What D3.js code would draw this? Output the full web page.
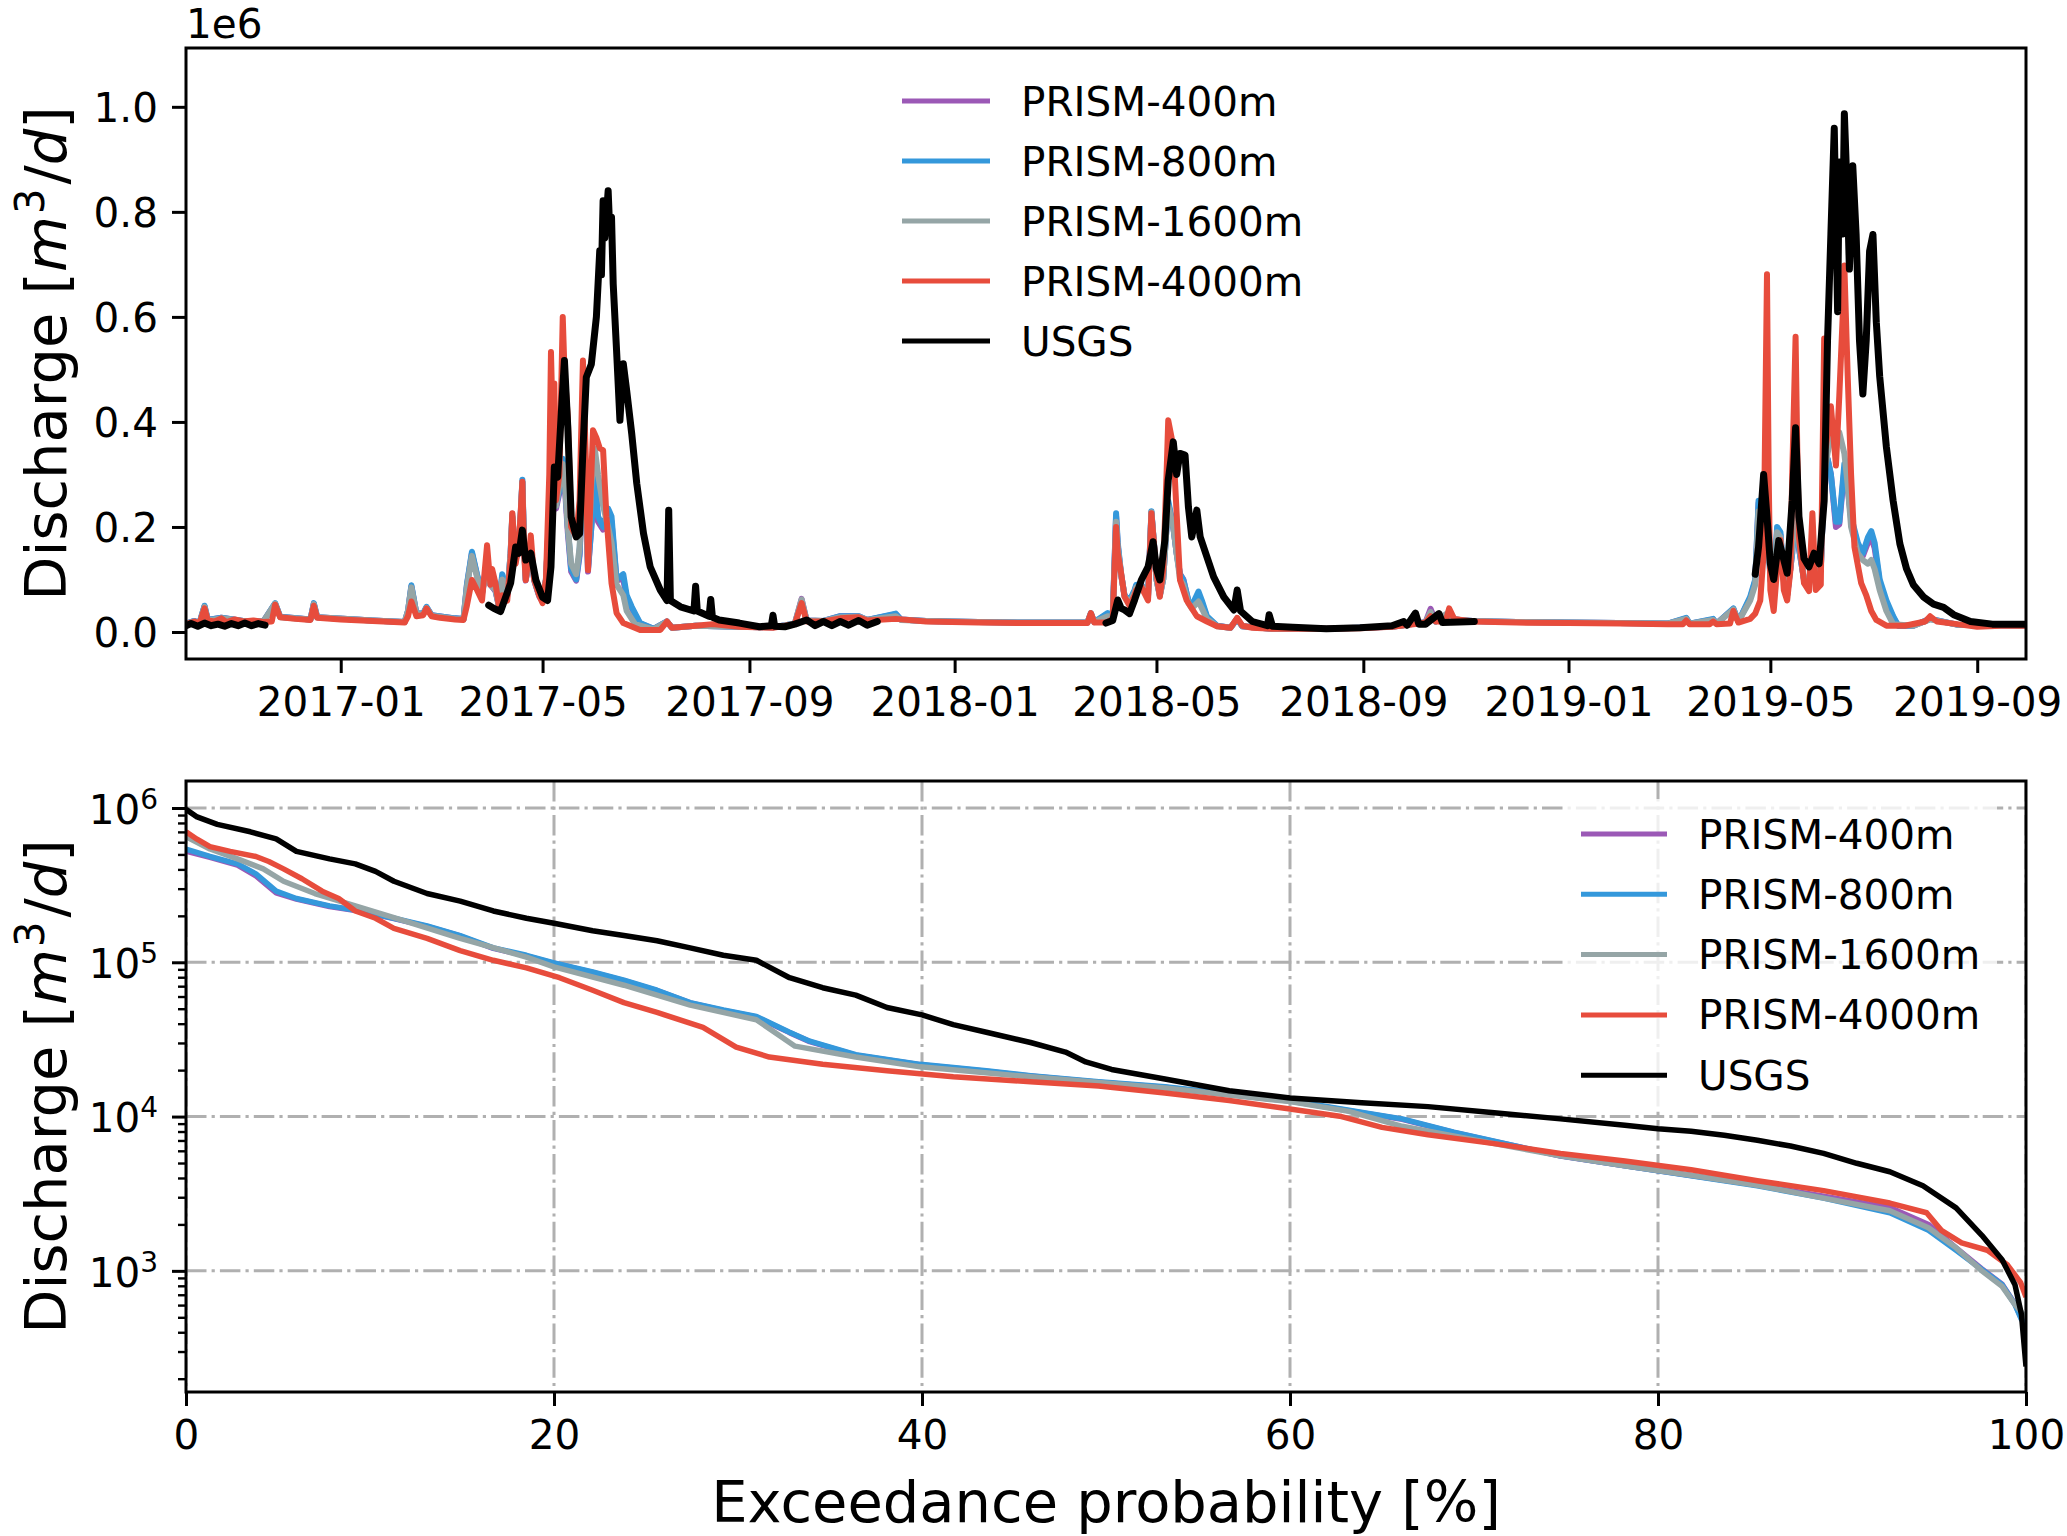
<!DOCTYPE html>
<html><head><meta charset="utf-8">
<script src="https://cdn.jsdelivr.net/npm/d3@7"></script>
<style>body{margin:0;background:#fff}svg{display:block}text{font-family:"DejaVu Sans",sans-serif;fill:#000}</style>
</head><body><svg id="chart" width="2067" height="1536"></svg>
<script>
// ---------------- DATA ----------------
const seriesNames = ["PRISM-400m","PRISM-800m","PRISM-1600m","PRISM-4000m","USGS"];
const seriesColors = ["#9b59b6","#3498db","#95a5a6","#e74c3c","#000000"];
const timeDomain = ["2016-10-01","2019-09-30"];
const timeTicks = ["2017-01-01","2017-05-01","2017-09-01","2018-01-01","2018-05-01","2018-09-01","2019-01-01","2019-05-01","2019-09-01"];
const flowTicks = [0,0.2,0.4,0.6,0.8,1.0];          // in units of 1e6 m3/d
const probTicks = [0,20,40,60,80,100];
const logMajorTicks = [1e3,1e4,1e5,1e6];

// daily discharge (1e6 m3/d), [date, value]; null = gap
const prism4000 = [["2016-10-01",0.015],["2016-10-06",0.02],["2016-10-09",0.016],["2016-10-12",0.045],["2016-10-14",0.022],["2016-10-18",0.02],["2016-10-22",0.026],["2016-10-25",0.019],["2016-10-30",0.024],["2016-11-04",0.02],["2016-11-10",0.022],["2016-11-16",0.019],["2016-11-21",0.02],["2016-11-23",0.052],["2016-11-26",0.028],["2016-12-05",0.025],["2016-12-14",0.023],["2016-12-16",0.05],["2016-12-18",0.027],["2017-01-01",0.024],["2017-01-20",0.021],["2017-02-08",0.018],["2017-02-10",0.03],["2017-02-12",0.058],["2017-02-15",0.03],["2017-02-19",0.032],["2017-02-21",0.045],["2017-02-24",0.03],["2017-03-01",0.027],["2017-03-10",0.024],["2017-03-15",0.023],["2017-03-17",0.05],["2017-03-20",0.099],["2017-03-23",0.08],["2017-03-26",0.06],["2017-03-29",0.165],["2017-03-31",0.09],["2017-04-01",0.12],["2017-04-03",0.093],["2017-04-05",0.05],["2017-04-07",0.07],["2017-04-10",0.06],["2017-04-12",0.14],["2017-04-13",0.226],["2017-04-15",0.13],["2017-04-17",0.17],["2017-04-19",0.286],["2017-04-20",0.15],["2017-04-21",0.099],["2017-04-23",0.15],["2017-04-24",0.184],["2017-04-26",0.1],["2017-04-29",0.07],["2017-05-01",0.055],["2017-05-03",0.1],["2017-05-05",0.3],["2017-05-06",0.533],["2017-05-07",0.4],["2017-05-08",0.473],["2017-05-09",0.251],["2017-05-11",0.3],["2017-05-13",0.6],["2017-05-14",0.5],["2017-05-16",0.409],["2017-05-18",0.2],["2017-05-21",0.181],["2017-05-23",0.25],["2017-05-25",0.517],["2017-05-27",0.3],["2017-05-28",0.118],["2017-05-30",0.3],["2017-05-31",0.384],["2017-06-02",0.37],["2017-06-04",0.35],["2017-06-06",0.346],["2017-06-08",0.219],["2017-06-11",0.093],["2017-06-14",0.036],["2017-06-18",0.017],["2017-06-28",0.004],["2017-07-10",0.004],["2017-07-14",0.02],["2017-07-17",0.008],["2017-07-31",0.012],["2017-08-10",0.015],["2017-08-26",0.01],["2017-09-15",0.008],["2017-09-28",0.015],["2017-10-02",0.055],["2017-10-05",0.02],["2017-10-15",0.02],["2017-10-25",0.026],["2017-11-05",0.028],["2017-11-10",0.022],["2017-11-27",0.025],["2017-12-15",0.02],["2018-01-15",0.018],["2018-02-15",0.017],["2018-03-21",0.017],["2018-03-23",0.036],["2018-03-25",0.018],["2018-04-01",0.018],["2018-04-05",0.025],["2018-04-07",0.2],["2018-04-08",0.15],["2018-04-10",0.112],["2018-04-12",0.067],["2018-04-15",0.05],["2018-04-18",0.07],["2018-04-19",0.08],["2018-04-22",0.086],["2018-04-26",0.06],["2018-04-28",0.226],["2018-04-30",0.15],["2018-05-01",0.112],["2018-05-03",0.067],["2018-05-05",0.118],["2018-05-07",0.3],["2018-05-08",0.403],["2018-05-10",0.37],["2018-05-11",0.352],["2018-05-13",0.226],["2018-05-15",0.099],["2018-05-19",0.06],["2018-05-25",0.03],["2018-05-31",0.02],["2018-06-06",0.011],["2018-06-14",0.008],["2018-06-18",0.027],["2018-06-21",0.012],["2018-06-27",0.008],["2018-07-09",0.006],["2018-08-10",0.006],["2018-08-30",0.007],["2018-09-18",0.01],["2018-10-02",0.015],["2018-10-08",0.018],["2018-10-11",0.03],["2018-10-14",0.02],["2018-10-20",0.02],["2018-10-22",0.045],["2018-10-25",0.025],["2018-11-05",0.02],["2018-12-01",0.018],["2019-01-01",0.017],["2019-02-01",0.016],["2019-03-01",0.015],["2019-03-10",0.015],["2019-03-12",0.022],["2019-03-14",0.015],["2019-03-26",0.015],["2019-03-28",0.02],["2019-03-30",0.015],["2019-04-07",0.016],["2019-04-09",0.04],["2019-04-12",0.018],["2019-04-19",0.025],["2019-04-22",0.035],["2019-04-25",0.06],["2019-04-27",0.15],["2019-04-29",0.681],["2019-04-30",0.3],["2019-05-01",0.08],["2019-05-03",0.04],["2019-05-05",0.12],["2019-05-07",0.175],["2019-05-09",0.08],["2019-05-11",0.06],["2019-05-13",0.12],["2019-05-14",0.3],["2019-05-16",0.562],["2019-05-17",0.35],["2019-05-18",0.182],["2019-05-21",0.093],["2019-05-24",0.078],["2019-05-26",0.226],["2019-05-28",0.08],["2019-05-31",0.09],["2019-06-02",0.559],["2019-06-03",0.352],["2019-06-06",0.43],["2019-06-09",0.317],["2019-06-11",0.45],["2019-06-13",0.6],["2019-06-14",0.698],["2019-06-16",0.487],["2019-06-18",0.3],["2019-06-20",0.162],["2019-06-24",0.093],["2019-06-27",0.07],["2019-06-30",0.04],["2019-07-03",0.023],["2019-07-09",0.012],["2019-07-20",0.012],["2019-08-01",0.02],["2019-08-04",0.03],["2019-08-08",0.02],["2019-08-20",0.015],["2019-09-01",0.01],["2019-09-15",0.012],["2019-09-30",0.012]];

const prism800 = [["2016-10-01",0.016],["2016-10-06",0.021],["2016-10-09",0.017],["2016-10-12",0.05],["2016-10-14",0.023],["2016-10-22",0.027],["2016-11-04",0.021],["2016-11-16",0.02],["2016-11-23",0.055],["2016-11-26",0.029],["2016-12-14",0.024],["2016-12-16",0.055],["2016-12-18",0.028],["2017-01-20",0.022],["2017-02-08",0.019],["2017-02-10",0.04],["2017-02-12",0.089],["2017-02-15",0.035],["2017-02-19",0.035],["2017-02-21",0.048],["2017-02-24",0.032],["2017-03-10",0.026],["2017-03-15",0.025],["2017-03-17",0.09],["2017-03-20",0.153],["2017-03-23",0.11],["2017-03-26",0.075],["2017-03-29",0.13],["2017-03-31",0.09],["2017-04-03",0.08],["2017-04-05",0.05],["2017-04-07",0.11],["2017-04-10",0.07],["2017-04-12",0.15],["2017-04-13",0.22],["2017-04-15",0.14],["2017-04-17",0.16],["2017-04-19",0.29],["2017-04-20",0.17],["2017-04-21",0.1],["2017-04-23",0.14],["2017-04-24",0.16],["2017-04-26",0.1],["2017-04-29",0.07],["2017-05-01",0.06],["2017-05-03",0.1],["2017-05-05",0.22],["2017-05-06",0.25],["2017-05-08",0.26],["2017-05-09",0.24],["2017-05-11",0.27],["2017-05-13",0.33],["2017-05-14",0.3],["2017-05-16",0.2],["2017-05-18",0.12],["2017-05-21",0.1],["2017-05-23",0.15],["2017-05-25",0.3],["2017-05-27",0.25],["2017-05-28",0.12],["2017-05-30",0.2],["2017-06-01",0.3],["2017-06-03",0.22],["2017-06-06",0.2],["2017-06-09",0.235],["2017-06-11",0.22],["2017-06-14",0.1],["2017-06-16",0.105],["2017-06-18",0.11],["2017-06-20",0.07],["2017-06-23",0.048],["2017-06-28",0.017],["2017-07-06",0.006],["2017-07-14",0.02],["2017-07-17",0.008],["2017-07-31",0.012],["2017-08-26",0.01],["2017-09-15",0.009],["2017-09-28",0.016],["2017-10-02",0.058],["2017-10-05",0.022],["2017-10-15",0.021],["2017-10-25",0.03],["2017-11-05",0.03],["2017-11-10",0.023],["2017-11-27",0.035],["2017-11-30",0.024],["2017-12-15",0.021],["2018-01-15",0.019],["2018-02-15",0.018],["2018-03-21",0.018],["2018-03-23",0.036],["2018-03-25",0.019],["2018-04-02",0.036],["2018-04-05",0.03],["2018-04-07",0.226],["2018-04-08",0.17],["2018-04-10",0.11],["2018-04-12",0.07],["2018-04-15",0.06],["2018-04-18",0.08],["2018-04-19",0.09],["2018-04-22",0.09],["2018-04-26",0.07],["2018-04-28",0.23],["2018-04-30",0.15],["2018-05-01",0.1],["2018-05-03",0.07],["2018-05-05",0.1],["2018-05-07",0.2],["2018-05-08",0.25],["2018-05-11",0.2],["2018-05-13",0.15],["2018-05-15",0.11],["2018-05-17",0.099],["2018-05-20",0.06],["2018-05-22",0.05],["2018-05-26",0.077],["2018-05-28",0.06],["2018-05-31",0.03],["2018-06-06",0.012],["2018-06-14",0.008],["2018-06-18",0.025],["2018-06-21",0.011],["2018-07-09",0.006],["2018-08-10",0.006],["2018-09-18",0.01],["2018-10-02",0.016],["2018-10-08",0.018],["2018-10-11",0.035],["2018-10-14",0.02],["2018-10-22",0.035],["2018-10-25",0.024],["2018-11-05",0.021],["2018-12-01",0.019],["2019-01-01",0.018],["2019-03-01",0.016],["2019-03-12",0.027],["2019-03-14",0.016],["2019-03-28",0.025],["2019-03-30",0.016],["2019-04-09",0.045],["2019-04-12",0.02],["2019-04-19",0.067],["2019-04-22",0.1],["2019-04-24",0.25],["2019-04-26",0.2],["2019-04-29",0.26],["2019-05-01",0.1],["2019-05-03",0.07],["2019-05-05",0.2],["2019-05-07",0.19],["2019-05-09",0.1],["2019-05-11",0.07],["2019-05-14",0.15],["2019-05-16",0.27],["2019-05-18",0.16],["2019-05-21",0.1],["2019-05-24",0.09],["2019-05-26",0.15],["2019-05-28",0.1],["2019-05-31",0.12],["2019-06-02",0.3],["2019-06-04",0.33],["2019-06-06",0.3],["2019-06-09",0.21],["2019-06-11",0.21],["2019-06-14",0.32],["2019-06-16",0.28],["2019-06-18",0.22],["2019-06-22",0.17],["2019-06-25",0.15],["2019-06-28",0.18],["2019-06-30",0.192],["2019-07-02",0.17],["2019-07-05",0.1],["2019-07-09",0.06],["2019-07-13",0.03],["2019-07-16",0.012],["2019-07-25",0.012],["2019-08-04",0.025],["2019-08-20",0.014],["2019-09-30",0.012]];

const prism400 = [["2016-10-01",0.016],["2016-10-06",0.021],["2016-10-09",0.017],["2016-10-12",0.049],["2016-10-14",0.023],["2016-10-22",0.027],["2016-11-04",0.021],["2016-11-16",0.02],["2016-11-23",0.054],["2016-11-26",0.029],["2016-12-14",0.024],["2016-12-16",0.054],["2016-12-18",0.028],["2017-01-20",0.022],["2017-02-08",0.019],["2017-02-10",0.04],["2017-02-12",0.087],["2017-02-15",0.035],["2017-02-19",0.035],["2017-02-21",0.047],["2017-02-24",0.032],["2017-03-10",0.026],["2017-03-15",0.025],["2017-03-17",0.088],["2017-03-20",0.15],["2017-03-23",0.108],["2017-03-26",0.074],["2017-03-29",0.128],["2017-03-31",0.09],["2017-04-03",0.078],["2017-04-05",0.05],["2017-04-07",0.105],["2017-04-10",0.068],["2017-04-12",0.148],["2017-04-13",0.22],["2017-04-15",0.138],["2017-04-17",0.158],["2017-04-19",0.285],["2017-04-20",0.165],["2017-04-21",0.098],["2017-04-23",0.138],["2017-04-24",0.158],["2017-04-26",0.098],["2017-04-29",0.068],["2017-05-01",0.058],["2017-05-03",0.098],["2017-05-05",0.22],["2017-05-06",0.245],["2017-05-08",0.255],["2017-05-09",0.235],["2017-05-11",0.265],["2017-05-13",0.32],["2017-05-14",0.29],["2017-05-16",0.19],["2017-05-18",0.115],["2017-05-21",0.098],["2017-05-23",0.145],["2017-05-25",0.29],["2017-05-27",0.24],["2017-05-28",0.115],["2017-05-30",0.2],["2017-06-01",0.29],["2017-06-03",0.21],["2017-06-06",0.195],["2017-06-09",0.225],["2017-06-11",0.21],["2017-06-14",0.098],["2017-06-16",0.1],["2017-06-18",0.1],["2017-06-20",0.065],["2017-06-23",0.045],["2017-06-28",0.016],["2017-07-06",0.006],["2017-07-14",0.02],["2017-07-17",0.008],["2017-07-31",0.012],["2017-08-26",0.01],["2017-09-15",0.009],["2017-09-28",0.016],["2017-10-02",0.063],["2017-10-05",0.022],["2017-10-15",0.021],["2017-10-25",0.03],["2017-11-05",0.03],["2017-11-10",0.023],["2017-11-27",0.034],["2017-11-30",0.024],["2017-12-15",0.021],["2018-01-15",0.019],["2018-02-15",0.018],["2018-03-21",0.018],["2018-03-23",0.035],["2018-03-25",0.019],["2018-04-02",0.034],["2018-04-05",0.029],["2018-04-07",0.22],["2018-04-08",0.165],["2018-04-10",0.108],["2018-04-12",0.07],["2018-04-15",0.058],["2018-04-18",0.078],["2018-04-19",0.088],["2018-04-22",0.088],["2018-04-26",0.068],["2018-04-28",0.228],["2018-04-30",0.148],["2018-05-01",0.1],["2018-05-03",0.07],["2018-05-05",0.1],["2018-05-07",0.2],["2018-05-08",0.245],["2018-05-11",0.2],["2018-05-13",0.15],["2018-05-15",0.11],["2018-05-17",0.1],["2018-05-20",0.058],["2018-05-22",0.048],["2018-05-26",0.072],["2018-05-28",0.056],["2018-05-31",0.028],["2018-06-06",0.012],["2018-06-14",0.008],["2018-06-18",0.025],["2018-06-21",0.011],["2018-07-09",0.006],["2018-08-10",0.006],["2018-09-18",0.01],["2018-10-02",0.016],["2018-10-08",0.019],["2018-10-11",0.044],["2018-10-14",0.02],["2018-10-22",0.036],["2018-10-25",0.024],["2018-11-05",0.021],["2018-12-01",0.019],["2019-01-01",0.018],["2019-03-01",0.016],["2019-03-12",0.026],["2019-03-14",0.016],["2019-03-28",0.024],["2019-03-30",0.016],["2019-04-09",0.044],["2019-04-12",0.02],["2019-04-19",0.064],["2019-04-22",0.097],["2019-04-24",0.245],["2019-04-26",0.195],["2019-04-29",0.255],["2019-05-01",0.1],["2019-05-03",0.07],["2019-05-05",0.195],["2019-05-07",0.185],["2019-05-09",0.1],["2019-05-11",0.07],["2019-05-14",0.15],["2019-05-16",0.27],["2019-05-18",0.16],["2019-05-21",0.1],["2019-05-24",0.09],["2019-05-26",0.148],["2019-05-28",0.1],["2019-05-31",0.12],["2019-06-02",0.3],["2019-06-04",0.33],["2019-06-06",0.3],["2019-06-09",0.2],["2019-06-11",0.205],["2019-06-14",0.31],["2019-06-16",0.275],["2019-06-18",0.215],["2019-06-22",0.165],["2019-06-25",0.145],["2019-06-28",0.17],["2019-06-30",0.18],["2019-07-02",0.16],["2019-07-05",0.095],["2019-07-09",0.055],["2019-07-13",0.028],["2019-07-16",0.012],["2019-07-25",0.012],["2019-08-04",0.025],["2019-08-20",0.014],["2019-09-30",0.012]];

const prism1600 = [["2016-10-01",0.016],["2016-10-06",0.02],["2016-10-09",0.017],["2016-10-12",0.048],["2016-10-14",0.022],["2016-10-22",0.026],["2016-11-04",0.021],["2016-11-16",0.02],["2016-11-23",0.054],["2016-11-26",0.028],["2016-12-14",0.024],["2016-12-16",0.053],["2016-12-18",0.028],["2017-01-20",0.022],["2017-02-08",0.019],["2017-02-10",0.04],["2017-02-12",0.085],["2017-02-15",0.034],["2017-02-19",0.034],["2017-02-21",0.046],["2017-02-24",0.031],["2017-03-10",0.025],["2017-03-15",0.024],["2017-03-17",0.085],["2017-03-20",0.145],["2017-03-23",0.105],["2017-03-26",0.072],["2017-03-29",0.13],["2017-03-31",0.09],["2017-04-03",0.08],["2017-04-05",0.05],["2017-04-07",0.1],["2017-04-10",0.07],["2017-04-12",0.15],["2017-04-13",0.225],["2017-04-15",0.14],["2017-04-17",0.16],["2017-04-19",0.285],["2017-04-20",0.16],["2017-04-21",0.1],["2017-04-23",0.14],["2017-04-24",0.16],["2017-04-26",0.1],["2017-04-29",0.07],["2017-05-01",0.06],["2017-05-03",0.1],["2017-05-05",0.23],["2017-05-06",0.26],["2017-05-08",0.25],["2017-05-09",0.24],["2017-05-11",0.28],["2017-05-13",0.32],["2017-05-14",0.3],["2017-05-16",0.2],["2017-05-18",0.13],["2017-05-21",0.11],["2017-05-23",0.16],["2017-05-25",0.3],["2017-05-27",0.24],["2017-05-28",0.13],["2017-05-30",0.28],["2017-06-01",0.35],["2017-06-03",0.3],["2017-06-06",0.24],["2017-06-09",0.2],["2017-06-11",0.17],["2017-06-14",0.09],["2017-06-16",0.08],["2017-06-18",0.07],["2017-06-20",0.04],["2017-06-25",0.015],["2017-07-06",0.005],["2017-07-14",0.02],["2017-07-17",0.008],["2017-07-31",0.012],["2017-08-26",0.01],["2017-09-15",0.009],["2017-09-28",0.016],["2017-10-02",0.062],["2017-10-05",0.022],["2017-10-15",0.021],["2017-10-25",0.028],["2017-11-05",0.029],["2017-11-10",0.023],["2017-11-27",0.03],["2017-11-30",0.023],["2017-12-15",0.021],["2018-01-15",0.019],["2018-02-15",0.018],["2018-03-21",0.018],["2018-03-23",0.035],["2018-03-25",0.019],["2018-04-02",0.03],["2018-04-05",0.028],["2018-04-07",0.21],["2018-04-08",0.16],["2018-04-10",0.11],["2018-04-12",0.068],["2018-04-15",0.055],["2018-04-18",0.075],["2018-04-19",0.085],["2018-04-22",0.088],["2018-04-26",0.065],["2018-04-28",0.228],["2018-04-30",0.15],["2018-05-01",0.1],["2018-05-03",0.068],["2018-05-05",0.1],["2018-05-07",0.2],["2018-05-08",0.24],["2018-05-11",0.2],["2018-05-13",0.15],["2018-05-15",0.1],["2018-05-17",0.09],["2018-05-20",0.055],["2018-05-22",0.045],["2018-05-26",0.058],["2018-05-28",0.045],["2018-05-31",0.025],["2018-06-06",0.011],["2018-06-14",0.008],["2018-06-18",0.026],["2018-06-21",0.011],["2018-07-09",0.006],["2018-08-10",0.006],["2018-09-18",0.01],["2018-10-02",0.016],["2018-10-08",0.018],["2018-10-11",0.038],["2018-10-14",0.02],["2018-10-22",0.038],["2018-10-25",0.024],["2018-11-05",0.021],["2018-12-01",0.019],["2019-01-01",0.018],["2019-03-01",0.016],["2019-03-12",0.025],["2019-03-14",0.016],["2019-03-28",0.023],["2019-03-30",0.016],["2019-04-09",0.043],["2019-04-12",0.02],["2019-04-19",0.06],["2019-04-22",0.09],["2019-04-24",0.23],["2019-04-26",0.19],["2019-04-29",0.25],["2019-05-01",0.1],["2019-05-03",0.07],["2019-05-05",0.19],["2019-05-07",0.18],["2019-05-09",0.1],["2019-05-11",0.07],["2019-05-14",0.16],["2019-05-16",0.278],["2019-05-18",0.17],["2019-05-21",0.1],["2019-05-24",0.09],["2019-05-26",0.15],["2019-05-28",0.1],["2019-05-31",0.12],["2019-06-02",0.3],["2019-06-04",0.34],["2019-06-06",0.37],["2019-06-09",0.36],["2019-06-11",0.38],["2019-06-14",0.34],["2019-06-16",0.28],["2019-06-18",0.2],["2019-06-22",0.15],["2019-06-25",0.137],["2019-06-28",0.13],["2019-06-30",0.137],["2019-07-02",0.12],["2019-07-05",0.08],["2019-07-09",0.04],["2019-07-13",0.015],["2019-07-25",0.012],["2019-08-04",0.024],["2019-08-20",0.014],["2019-09-30",0.012]];

const usgs = [["2016-10-01",0.012],["2016-10-04",0.016],["2016-10-08",0.011],["2016-10-12",0.017],["2016-10-16",0.012],["2016-10-20",0.015],["2016-10-24",0.011],["2016-10-28",0.016],["2016-11-01",0.012],["2016-11-05",0.017],["2016-11-09",0.012],["2016-11-13",0.016],["2016-11-17",0.013],["2016-11-18",null],
["2017-03-30",0.051],["2017-04-02",0.045],["2017-04-06",0.039],["2017-04-09",0.066],["2017-04-12",0.093],["2017-04-15",0.162],["2017-04-17",0.15],["2017-04-19",0.194],["2017-04-21",0.137],["2017-04-24",0.15],["2017-04-27",0.099],["2017-05-01",0.066],["2017-05-04",0.06],["2017-05-06",0.124],["2017-05-08",0.314],["2017-05-10",0.295],["2017-05-12",0.409],["2017-05-14",0.517],["2017-05-16",0.39],["2017-05-18",0.219],["2017-05-21",0.181],["2017-05-23",0.187],["2017-05-25",0.346],["2017-05-27",0.485],["2017-05-30",0.51],["2017-06-02",0.6],["2017-06-04",0.726],["2017-06-05",0.68],["2017-06-06",0.821],["2017-06-07",0.75],["2017-06-09",0.84],["2017-06-10",0.76],["2017-06-11",0.79],["2017-06-12",0.663],["2017-06-14",0.536],["2017-06-16",0.403],["2017-06-18",0.511],["2017-06-20",0.46],["2017-06-23",0.378],["2017-06-26",0.283],["2017-06-30",0.188],["2017-07-04",0.124],["2017-07-10",0.08],["2017-07-14",0.06],["2017-07-15",0.232],["2017-07-16",0.06],["2017-07-22",0.048],["2017-07-30",0.04],["2017-07-31",0.087],["2017-08-01",0.04],["2017-08-08",0.03],["2017-08-09",0.062],["2017-08-10",0.028],["2017-08-14",0.023],["2017-08-26",0.017],["2017-09-07",0.01],["2017-09-14",0.012],["2017-09-15",0.032],["2017-09-16",0.011],["2017-09-22",0.01],["2017-09-28",0.015],["2017-10-05",0.023],["2017-10-10",0.012],["2017-10-15",0.02],["2017-10-20",0.012],["2017-10-25",0.02],["2017-10-30",0.013],["2017-11-05",0.022],["2017-11-10",0.013],["2017-11-16",0.02],["2017-11-17",null],
["2018-04-01",0.017],["2018-04-05",0.022],["2018-04-08",0.061],["2018-04-10",0.045],["2018-04-12",0.042],["2018-04-15",0.035],["2018-04-18",0.061],["2018-04-22",0.099],["2018-04-26",0.124],["2018-04-29",0.172],["2018-05-01",0.12],["2018-05-03",0.099],["2018-05-06",0.175],["2018-05-08",0.289],["2018-05-11",0.362],["2018-05-13",0.3],["2018-05-15",0.34],["2018-05-18",0.337],["2018-05-20",0.238],["2018-05-22",0.181],["2018-05-25",0.232],["2018-05-27",0.181],["2018-05-31",0.143],["2018-06-04",0.105],["2018-06-10",0.067],["2018-06-16",0.042],["2018-06-18",0.08],["2018-06-20",0.04],["2018-06-27",0.02],["2018-07-06",0.012],["2018-07-07",0.033],["2018-07-09",0.011],["2018-07-21",0.009],["2018-08-10",0.006],["2018-08-30",0.008],["2018-09-18",0.012],["2018-09-25",0.02],["2018-09-27",0.013],["2018-10-02",0.036],["2018-10-04",0.015],["2018-10-08",0.015],["2018-10-16",0.035],["2018-10-18",0.018],["2018-10-28",0.019],["2018-11-06",0.02],["2018-11-07",null],
["2019-04-22",0.11],["2019-04-24",0.162],["2019-04-27",0.3],["2019-04-29",0.22],["2019-05-01",0.13],["2019-05-03",0.1],["2019-05-06",0.174],["2019-05-08",0.15],["2019-05-11",0.112],["2019-05-14",0.25],["2019-05-16",0.389],["2019-05-18",0.22],["2019-05-21",0.14],["2019-05-24",0.124],["2019-05-27",0.15],["2019-05-30",0.13],["2019-06-02",0.25],["2019-06-04",0.555],["2019-06-06",0.758],["2019-06-08",0.959],["2019-06-10",0.61],["2019-06-11",0.895],["2019-06-13",0.758],["2019-06-14",0.987],["2019-06-16",0.81],["2019-06-17",0.691],["2019-06-19",0.888],["2019-06-21",0.757],["2019-06-23",0.555],["2019-06-25",0.453],["2019-06-27",0.555],["2019-06-29",0.725],["2019-07-01",0.757],["2019-07-03",0.59],["2019-07-05",0.487],["2019-07-09",0.352],["2019-07-13",0.25],["2019-07-17",0.168],["2019-07-21",0.12],["2019-07-25",0.09],["2019-07-31",0.067],["2019-08-06",0.053],["2019-08-12",0.047],["2019-08-18",0.033],["2019-08-28",0.02],["2019-09-10",0.015],["2019-09-30",0.015]];

// flow duration curves: [exceedance %, discharge m3/d]
const fdc400 = [[0,525000],[1.3,479000],[2.8,427000],[3.8,363000],[4.9,282000],[6,257000],[7.8,230000],[9.5,214000],[11.3,192000],[13.1,171000],[14.9,148000],[16.7,123000],[18.5,110000],[20,98500],[22.1,86000],[23.8,76000],[25.6,65500],[27.4,54500],[29.2,48800],[31,44200],[32.8,35000],[33.9,30600],[36.4,25000],[39.9,21700],[43.5,19700],[45.9,18300],[49.6,16700],[53.2,15500],[56.7,13900],[60,12600],[63.2,10900],[66.1,9600],[68.9,7900],[71.1,6900],[74.7,5550],[78.2,4800],[81.8,4150],[85.4,3600],[89,3050],[92.6,2570],[94.7,2000],[96.2,1410],[97.6,1030],[98.7,820],[99.4,610],[99.75,490],[100,450]];
const fdc800 = [[0,542000],[1.3,485000],[2.8,434000],[3.8,374000],[4.9,289000],[6,259000],[7.8,232000],[9.5,215000],[11.3,193000],[13.1,172000],[14.9,149000],[16.7,124000],[18.5,111000],[20,99100],[22.1,86700],[23.8,76600],[25.6,65900],[27.4,54800],[29.2,49100],[31,44600],[32.8,35200],[33.9,30800],[36.4,25200],[39.9,21800],[43.5,19800],[45.9,18400],[49.6,16800],[53.2,15600],[56.7,14000],[60,12700],[63.2,11000],[66.1,9660],[68.9,7930],[71.1,6930],[74.7,5560],[78.2,4790],[81.8,4130],[85.4,3560],[89,2960],[92.6,2380],[94.7,1830],[96.2,1360],[97.6,1020],[98.7,813],[99.4,605],[99.75,485],[100,447]];
const fdc1600 = [[0,652000],[1.3,542000],[2.8,468000],[4.2,403000],[5.3,335000],[7,279000],[8.8,240000],[11.3,195000],[14.9,143000],[18.5,108000],[20,93300],[23.8,71000],[27.4,52800],[31,42400],[33.1,28600],[36.4,24300],[39.9,21000],[45.9,18100],[49.6,16600],[53.2,15300],[56.7,13800],[60,12500],[63.2,10800],[66.1,8650],[71.1,6680],[74.7,5560],[78.2,4790],[81.8,4170],[85.4,3590],[89,2960],[92.6,2450],[94.7,1900],[96.2,1410],[97.6,1000],[98.7,794],[99.4,603],[100,500]];
const fdc4000 = [[0,701000],[0.6,628000],[1.3,562000],[2.4,523000],[3.8,485000],[4.5,450000],[5.3,403000],[6.3,348000],[7.4,289000],[8.3,259000],[9.2,215000],[10.3,193000],[11.3,166000],[13.1,143000],[14.9,119000],[16.7,103000],[18.5,92000],[20.3,79400],[22.1,65900],[23.8,54800],[25.6,47300],[28.1,37900],[29.9,28200],[31.7,24300],[34.6,21800],[38.1,19800],[41.7,18100],[45.9,16800],[49.6,15800],[53.2,14200],[56.7,12700],[60,11200],[62.8,10000],[65,8510],[67.5,7620],[71.1,6680],[74.7,5770],[78.2,5150],[81.8,4520],[85.4,3840],[89,3310],[92.6,2750],[94.6,2380],[95.4,1830],[96.5,1520],[97.9,1360],[99,1090],[99.7,843],[100,676]];
const fdcUsgs = [[0,980000],[0.6,875000],[1.7,783000],[3.5,701000],[4.9,631000],[6,523000],[7.8,468000],[9.2,434000],[10.3,388000],[11.3,335000],[13.1,279000],[14.9,249000],[16.7,215000],[18.5,193000],[20,179000],[22.1,160000],[23.8,149000],[25.6,138000],[27.4,124000],[29.2,111000],[31,103000],[32.8,79400],[34.6,68400],[36.4,61200],[38.1,50900],[40,45600],[41.7,39400],[43.5,35200],[45.9,30200],[47.8,26200],[48.9,22600],[50.3,20200],[53.2,17500],[56.7,14700],[60,13200],[63.9,12300],[67.5,11600],[71.1,10600],[74.7,9660],[78.2,8790],[80,8340],[81.8,8040],[83.6,7570],[85.4,7030],[87.2,6440],[89,5770],[90.8,4980],[92.6,4390],[94.4,3560],[96.2,2560],[97.6,1700],[98.7,1180],[99.4,813],[99.75,525],[100,240]];

const timeSeries = [prism400, prism800, prism1600, prism4000, usgs];
const fdcSeries = [fdc400, fdc800, fdc1600, fdc4000, fdcUsgs];

// ---------------- DRAW ----------------
const svg = d3.select("#chart");
const parse = d3.timeParse("%Y-%m-%d");
const L = 186, R = 2026;
const A1 = {t: 48, b: 659}, A2 = {t: 781, b: 1392};
const FS = 40.5, LFS = 57.5;

const x1 = d3.scaleTime().domain(timeDomain.map(parse)).range([L, R]);
const y1 = d3.scaleLinear().domain([-0.0514, 1.112]).range([A1.b, A1.t]);
const x2 = d3.scaleLinear().domain([0, 100]).range([L, R]);
const y2 = d3.scaleLog().domain([164, 1.496e6]).range([A2.b, A2.t]);

const defs = svg.append("defs");
defs.append("clipPath").attr("id","c1").append("rect").attr("x",L).attr("y",A1.t).attr("width",R-L).attr("height",A1.b-A1.t);
defs.append("clipPath").attr("id","c2").append("rect").attr("x",L).attr("y",A2.t).attr("width",R-L).attr("height",A2.b-A2.t);

// ---- bottom grid ----
const grid = svg.append("g").attr("clip-path","url(#c2)");
grid.selectAll("line.gx").data(probTicks).join("line")
  .attr("x1", d => x2(d)).attr("x2", d => x2(d)).attr("y1", A2.t).attr("y2", A2.b);
grid.selectAll("line.gy").data(logMajorTicks).join("line").attr("class","gy")
  .attr("x1", L).attr("x2", R).attr("y1", d => y2(d)).attr("y2", d => y2(d));
grid.selectAll("line").attr("stroke","#b0b0b0").attr("stroke-width",3)
  .attr("stroke-dasharray","20.5,5.1,3.2,5.1");

// ---- lines top ----
const lineT = d3.line().defined(d => d[1] != null).x(d => x1(parse(d[0]))).y(d => y1(d[1]));
const gT = svg.append("g").attr("clip-path","url(#c1)");
timeSeries.forEach((s, i) => {
  gT.append("path").attr("d", lineT(s)).attr("fill","none").attr("stroke", seriesColors[i])
    .attr("stroke-width", i === 4 ? 7 : 6).attr("stroke-linejoin","round").attr("stroke-linecap","round");
});

// ---- lines bottom ----
const lineB = d3.line().x(d => x2(d[0])).y(d => y2(d[1]));
const gB = svg.append("g").attr("clip-path","url(#c2)");
fdcSeries.forEach((s, i) => {
  gB.append("path").attr("d", lineB(s)).attr("fill","none").attr("stroke", seriesColors[i])
    .attr("stroke-width", 5.5).attr("stroke-linejoin","round");
});

// ---- legends ----
function legend(yRows, xh1, xh2, xt, withFrame, frame) {
  const g = svg.append("g");
  if (withFrame) {
    g.append("rect").attr("x",frame[0]).attr("y",frame[1]).attr("width",frame[2]).attr("height",frame[3])
      .attr("fill","#fff").attr("fill-opacity",0.8);
  }
  seriesNames.forEach((n, i) => {
    const y = yRows[0] + i * yRows[1];
    g.append("line").attr("x1",xh1).attr("x2",xh2).attr("y1",y).attr("y2",y)
      .attr("stroke",seriesColors[i]).attr("stroke-width",5);
    g.append("text").attr("x",xt).attr("y",y).attr("dy","0.36em").attr("font-size",FS).text(n);
  });
}
legend([101, 60], 902, 990, 1021, false);
legend([834, 60.3], 1581, 1667, 1698, true, [1567, 799, 430, 312]);

// ---- spines ----
[A1, A2].forEach(a => {
  svg.append("rect").attr("x",L).attr("y",a.t).attr("width",R-L).attr("height",a.b-a.t)
    .attr("fill","none").attr("stroke","#000").attr("stroke-width",3);
});

function styleAxis(g, w) {
  g.select(".domain").remove();
  g.selectAll(".tick line").attr("stroke","#000").attr("stroke-width", w);
  g.selectAll(".tick text").attr("font-size", FS).attr("font-family","DejaVu Sans").attr("fill","#000");
}

// top axes
const axX1 = svg.append("g").attr("transform",`translate(0,${A1.b})`)
  .call(d3.axisBottom(x1).tickValues(timeTicks.map(parse)).tickFormat(d3.timeFormat("%Y-%m")).tickSize(14).tickPadding(14));
styleAxis(axX1, 3);
const axY1 = svg.append("g").attr("transform",`translate(${L},0)`)
  .call(d3.axisLeft(y1).tickValues(flowTicks).tickFormat(d3.format(".1f")).tickSize(14).tickPadding(14));
styleAxis(axY1, 3);
axY1.selectAll(".tick text").attr("dy","0.36em");
svg.append("text").attr("x", L).attr("y", 38).attr("font-size", FS).text("1e6");

// bottom axes
const axX2 = svg.append("g").attr("transform",`translate(0,${A2.b})`)
  .call(d3.axisBottom(x2).tickValues(probTicks).tickFormat(d3.format("d")).tickSize(14).tickPadding(14));
styleAxis(axX2, 3);
const minorTicks = [];
[100, 1000, 10000, 100000].forEach(b => { for (let k = 2; k <= 9; k++) { const v = b * k; if (v >= 164 && v <= 1.496e6) minorTicks.push(v); } });
const axY2m = svg.append("g").attr("transform",`translate(${L},0)`)
  .call(d3.axisLeft(y2).tickValues(minorTicks).tickFormat("").tickSize(8));
styleAxis(axY2m, 2.4);
const axY2 = svg.append("g").attr("transform",`translate(${L},0)`)
  .call(d3.axisLeft(y2).tickValues(logMajorTicks).tickFormat("").tickSize(14).tickPadding(14));
styleAxis(axY2, 3);
axY2.selectAll(".tick").each(function(d) {
  const t = d3.select(this).append("text").attr("x", -28).attr("dy", "0.38em")
    .attr("text-anchor","end").attr("font-size", FS).attr("fill","#000");
  t.append("tspan").text("10");
  t.append("tspan").attr("font-size", 28).attr("dy", -15).text(String(Math.round(Math.log10(d))));
});

// axis labels
function yLabel(cy) {
  const t = svg.append("text").attr("transform",`translate(66,${cy}) rotate(-90)`)
    .attr("text-anchor","middle").attr("font-size", LFS);
  t.append("tspan").text("Discharge [");
  t.append("tspan").attr("font-style","italic").text("m");
  t.append("tspan").attr("font-size", 40).attr("dy", -22).attr("dx", 2).text("3");
  t.append("tspan").attr("dy", 22).attr("dx", 4).text("/");
  t.append("tspan").attr("font-style","italic").text("d");
  t.append("tspan").text("]");
}
yLabel((A1.t + A1.b) / 2);
yLabel((A2.t + A2.b) / 2);
svg.append("text").attr("x", (L + R) / 2).attr("y", 1522).attr("text-anchor","middle")
  .attr("font-size", LFS).text("Exceedance probability [%]");
</script></body></html>
